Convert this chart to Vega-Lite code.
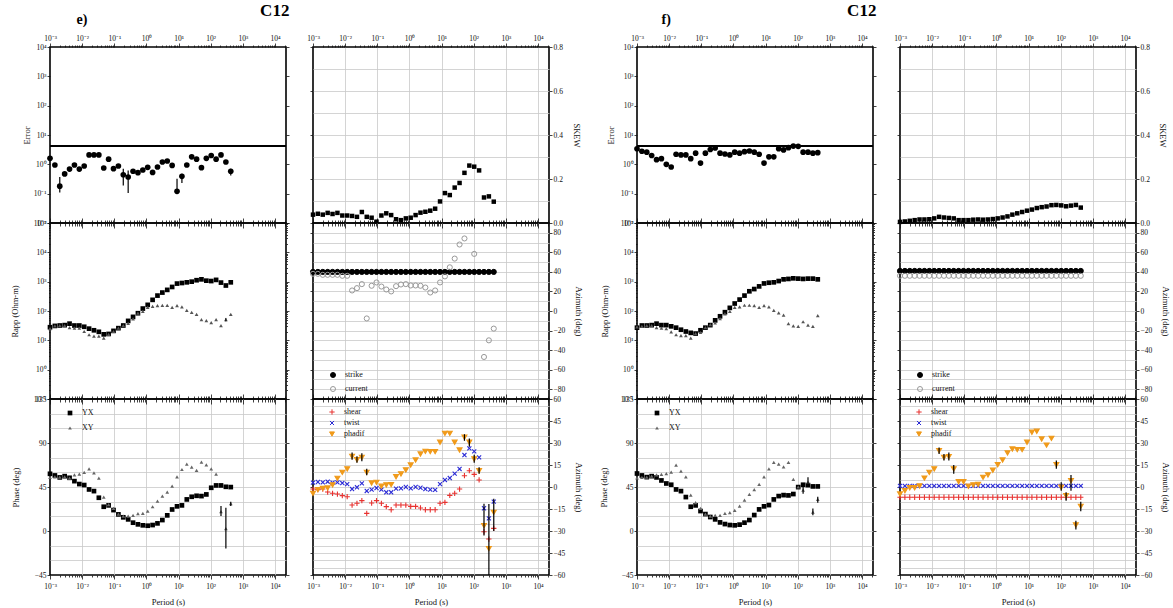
{
"$schema": "https://vega.github.io/schema/vega-lite/v6.json",
"padding": {"left": 9, "top": 1, "right": 2, "bottom": 2},
"background": "white",
"config": {
 "font": "Liberation Serif",
 "view": {"stroke": "#000", "strokeWidth": 1.6},
 "point": {"opacity": 1},
 "axis": {"domain": false, "grid": false, "labelFont": "Liberation Serif", "titleFont": "Liberation Serif", "labelFontSize": 7.5, "titleFontSize": 8.5, "titleFontWeight": "normal", "labelColor": "#111", "titleColor": "#111", "tickColor": "#111", "tickWidth": 0.8, "gridColor": "#c9c9c9", "gridWidth": 0.8, "labelFlush": false, "labelOverlap": false},
 "legend": {"labelFont": "Liberation Serif", "labelFontSize": 8, "labelColor": "#111", "rowPadding": 4, "labelOffset": 8, "symbolSize": 25, "symbolStrokeWidth": 1, "padding": 0},
 "title": {"font": "Liberation Serif"}
},
"datasets": {
 "e": [
  {"p":0.001,"err":1.6,"sk":0.038,"rYX":28,"rXY":25,"pYX":58.5,"pXY":54.8,"strike":40,"current":38,"shear":-1.4,"twist":3,"phadif":-4.3},
  {"p":0.001419,"err":0.95,"sk":0.042,"rYX":31,"rXY":31,"pYX":56.8,"pXY":55.4,"strike":40,"current":38,"shear":-1.8,"twist":3.4,"phadif":-1.8},
  {"p":0.002014,"err":0.18,"sk":0.038,"rYX":32,"rXY":32,"pYX":54.8,"pXY":55,"strike":40,"current":37,"shear":-1.4,"twist":3.2,"phadif":-0.9},
  {"p":0.002858,"err":0.47,"sk":0.046,"rYX":33,"rXY":32,"pYX":56.1,"pXY":55.4,"strike":40,"current":37,"shear":-3.4,"twist":3.6,"phadif":-0.7},
  {"p":0.004055,"err":0.69,"sk":0.041,"rYX":37,"rXY":27,"pYX":54.4,"pXY":54,"strike":40,"current":37,"shear":-4.3,"twist":3,"phadif":1.4},
  {"p":0.005754,"err":0.95,"sk":0.046,"rYX":32,"rXY":26,"pYX":51,"pXY":57.5,"strike":40,"current":37,"shear":-4.8,"twist":3.2,"phadif":5.9},
  {"p":0.008166,"err":0.69,"sk":0.034,"rYX":32,"rXY":26,"pYX":48,"pXY":58.2,"strike":40,"current":36,"shear":-5.9,"twist":2.7,"phadif":10},
  {"p":0.01159,"err":0.88,"sk":0.034,"rYX":29,"rXY":20,"pYX":47,"pXY":59.9,"strike":40,"current":36,"shear":-6.6,"twist":2,"phadif":12.3},
  {"p":0.01644,"err":2.1,"sk":0.032,"rYX":25,"rXY":15.5,"pYX":42.5,"pXY":63.6,"strike":40,"current":21,"shear":-12.3,"twist":-1.4,"phadif":20.9},
  {"p":0.02333,"err":2.1,"sk":0.028,"rYX":22,"rXY":14,"pYX":40.8,"pXY":59.5,"strike":40,"current":23.4,"shear":-11.1,"twist":-0.2,"phadif":18.6},
  {"p":0.03311,"err":2.1,"sk":0.05,"rYX":19.5,"rXY":14,"pYX":34,"pXY":54,"strike":40,"current":27.5,"shear":-9.3,"twist":2.5,"phadif":20.2},
  {"p":0.04699,"err":0.75,"sk":0.028,"rYX":16,"rXY":12,"pYX":24.8,"pXY":34.7,"strike":40,"current":-7.6,"shear":-18,"twist":-2.7,"phadif":10},
  {"p":0.06668,"err":1.5,"sk":0.024,"rYX":16.5,"rXY":16,"pYX":26.2,"pXY":26.9,"strike":40,"current":25.8,"shear":-10.9,"twist":-1.8,"phadif":2.7},
  {"p":0.09462,"err":0.71,"sk":0.006,"rYX":21,"rXY":20,"pYX":21.4,"pXY":23.1,"strike":40,"current":29.2,"shear":-9.3,"twist":-0.7,"phadif":3.2},
  {"p":0.1343,"err":0.88,"sk":0.034,"rYX":26,"rXY":26,"pYX":17,"pXY":17.3,"strike":40,"current":25,"shear":-11.1,"twist":-1.8,"phadif":0.5},
  {"p":0.1905,"err":0.44,"sk":0.044,"rYX":32,"rXY":32,"pYX":14,"pXY":15.3,"strike":40,"current":22,"shear":-13.4,"twist":-3.6,"phadif":1.4},
  {"p":0.2704,"err":0.37,"sk":0.036,"rYX":46,"rXY":38,"pYX":11.9,"pXY":15.3,"strike":40,"current":20,"shear":-15.5,"twist":-3.6,"phadif":1.6},
  {"p":0.3837,"err":0.58,"sk":0.017,"rYX":63,"rXY":54,"pYX":8.5,"pXY":16,"strike":40,"current":25.4,"shear":-12.3,"twist":-1.1,"phadif":7},
  {"p":0.5445,"err":0.52,"sk":0.013,"rYX":84,"rXY":84,"pYX":6.8,"pXY":17.7,"strike":40,"current":27.1,"shear":-12.3,"twist":-0.9,"phadif":8.9},
  {"p":0.7727,"err":0.64,"sk":0.021,"rYX":121,"rXY":98,"pYX":5.8,"pXY":18,"strike":40,"current":27.5,"shear":-12.3,"twist":0,"phadif":11.6},
  {"p":1.096,"err":0.79,"sk":0.024,"rYX":162,"rXY":134,"pYX":5.4,"pXY":20.4,"strike":40,"current":26.1,"shear":-13.2,"twist":-0.9,"phadif":15},
  {"p":1.556,"err":0.53,"sk":0.036,"rYX":240,"rXY":145,"pYX":6.1,"pXY":24.8,"strike":40,"current":26.1,"shear":-13.2,"twist":0,"phadif":18.4},
  {"p":2.208,"err":0.81,"sk":0.047,"rYX":335,"rXY":153,"pYX":7.8,"pXY":30.6,"strike":40,"current":25.8,"shear":-14.3,"twist":-0.5,"phadif":22.5},
  {"p":3.133,"err":1.2,"sk":0.051,"rYX":425,"rXY":155,"pYX":11.2,"pXY":35.7,"strike":40,"current":24,"shear":-15.5,"twist":-1.4,"phadif":24.3},
  {"p":4.446,"err":1.3,"sk":0.056,"rYX":525,"rXY":155,"pYX":16,"pXY":39.8,"strike":40,"current":18.9,"shear":-15.5,"twist":-1.8,"phadif":24.1},
  {"p":6.31,"err":0.92,"sk":0.065,"rYX":660,"rXY":134,"pYX":22,"pXY":45.9,"strike":40,"current":21,"shear":-15.5,"twist":-2,"phadif":24.1},
  {"p":8.954,"err":0.12,"sk":0.098,"rYX":860,"rXY":153,"pYX":25.2,"pXY":55.4,"strike":40,"current":29.2,"shear":-11.1,"twist":2,"phadif":30.5},
  {"p":12.71,"err":0.39,"sk":0.136,"rYX":900,"rXY":138,"pYX":26.2,"pXY":62.9,"strike":40,"current":35.4,"shear":-10.5,"twist":4.8,"phadif":36.6},
  {"p":18.03,"err":0.95,"sk":0.127,"rYX":950,"rXY":106,"pYX":32.3,"pXY":68.4,"strike":40,"current":44.7,"shear":-5.7,"twist":6.1,"phadif":36.6},
  {"p":25.59,"err":1.8,"sk":0.161,"rYX":1000,"rXY":89,"pYX":35,"pXY":65.3,"strike":40,"current":53.6,"shear":-4.3,"twist":9.1,"phadif":30.5},
  {"p":36.31,"err":1.5,"sk":0.182,"rYX":1120,"rXY":77,"pYX":36,"pXY":61.9,"strike":40,"current":68,"shear":-1.4,"twist":12.3,"phadif":25.2},
  {"p":51.52,"err":0.77,"sk":0.228,"rYX":1200,"rXY":51,"pYX":35.7,"pXY":70.4,"strike":40,"current":74.2,"shear":7.7,"twist":21.8,"phadif":33.9},
  {"p":73.11,"err":1.6,"sk":0.261,"rYX":1080,"rXY":47,"pYX":37.4,"pXY":67.7,"strike":40,"current":null,"shear":11.1,"twist":26.3,"phadif":30.5},
  {"p":103.7,"err":2.0,"sk":0.256,"rYX":1050,"rXY":40,"pYX":44.2,"pXY":63.6,"strike":40,"current":58.4,"shear":8.6,"twist":24.3,"phadif":19.1},
  {"p":147.2,"err":1.5,"sk":0.239,"rYX":1150,"rXY":51,"pYX":46.6,"pXY":58.2,"strike":40,"current":null,"shear":4.8,"twist":20.2,"phadif":11.1},
  {"p":208.9,"err":2.1,"sk":0.116,"rYX":930,"rXY":32,"pYX":46.6,"pXY":19.7,"strike":40,"current":-47,"shear":-30.5,"twist":-14.5,"phadif":-26.4},
  {"p":296.5,"err":1.2,"sk":0.121,"rYX":740,"rXY":51,"pYX":45.2,"pXY":2.4,"strike":40,"current":-30,"shear":-35.5,"twist":-21.4,"phadif":-42},
  {"p":420.7,"err":0.58,"sk":0.097,"rYX":950,"rXY":77,"pYX":44.9,"pXY":27.9,"strike":40,"current":-18,"shear":-28.2,"twist":-10,"phadif":-17.3}
 ],
 "f": [
  {"p":0.001,"err":3.4,"sk":0.005,"rYX":27,"rXY":29,"pYX":58.8,"pXY":54.4,"strike":41,"current":36,"shear":-7,"twist":0.8,"phadif":-4.8},
  {"p":0.001419,"err":2.8,"sk":0.007,"rYX":32,"rXY":30,"pYX":56.8,"pXY":54.8,"strike":41,"current":36,"shear":-7,"twist":0.8,"phadif":-2.5},
  {"p":0.002014,"err":2.6,"sk":0.01,"rYX":32,"rXY":32,"pYX":55.1,"pXY":55.1,"strike":41,"current":36,"shear":-7,"twist":0.8,"phadif":-0.5},
  {"p":0.002858,"err":2.0,"sk":0.013,"rYX":33,"rXY":32,"pYX":56.1,"pXY":56.1,"strike":41,"current":36,"shear":-7,"twist":0.8,"phadif":-0.5},
  {"p":0.004055,"err":1.44,"sk":0.016,"rYX":37,"rXY":27,"pYX":54.8,"pXY":57.5,"strike":41,"current":36,"shear":-7,"twist":0.8,"phadif":0.7},
  {"p":0.005754,"err":1.56,"sk":0.016,"rYX":33,"rXY":26,"pYX":51.7,"pXY":57.8,"strike":41,"current":36,"shear":-7,"twist":0.8,"phadif":6.1},
  {"p":0.008166,"err":1.0,"sk":0.017,"rYX":33,"rXY":25,"pYX":48.6,"pXY":58.8,"strike":41,"current":36,"shear":-7,"twist":0.8,"phadif":10},
  {"p":0.01159,"err":0.81,"sk":0.021,"rYX":30,"rXY":19.5,"pYX":47.3,"pXY":60.2,"strike":41,"current":36,"shear":-7,"twist":0.8,"phadif":12.3},
  {"p":0.01644,"err":2.2,"sk":0.028,"rYX":27,"rXY":15.5,"pYX":42.5,"pXY":67.3,"strike":41,"current":36,"shear":-7,"twist":0.8,"phadif":24.8},
  {"p":0.02333,"err":2.1,"sk":0.025,"rYX":23,"rXY":14.4,"pYX":40.8,"pXY":61.2,"strike":41,"current":36,"shear":-7,"twist":0.8,"phadif":20.2},
  {"p":0.03311,"err":2.1,"sk":0.023,"rYX":20,"rXY":14.4,"pYX":34.7,"pXY":55.4,"strike":41,"current":36,"shear":-7,"twist":0.8,"phadif":20.7},
  {"p":0.04699,"err":1.56,"sk":0.021,"rYX":18,"rXY":12,"pYX":24.8,"pXY":36.7,"strike":41,"current":36,"shear":-7,"twist":0.8,"phadif":12.3},
  {"p":0.06668,"err":2.4,"sk":0.013,"rYX":17,"rXY":16.8,"pYX":26.2,"pXY":28.9,"strike":41,"current":36,"shear":-7,"twist":0.8,"phadif":3.6},
  {"p":0.09462,"err":1.1,"sk":0.013,"rYX":22,"rXY":18.5,"pYX":20.4,"pXY":23.1,"strike":41,"current":36,"shear":-7,"twist":0.8,"phadif":3.6},
  {"p":0.1343,"err":2.4,"sk":0.013,"rYX":27,"rXY":27,"pYX":17.3,"pXY":17.3,"strike":41,"current":36,"shear":-7,"twist":0.8,"phadif":0.5},
  {"p":0.1905,"err":3.2,"sk":0.015,"rYX":33,"rXY":34,"pYX":14.3,"pXY":15.3,"strike":41,"current":36,"shear":-7,"twist":0.8,"phadif":1.4},
  {"p":0.2704,"err":3.6,"sk":0.016,"rYX":48,"rXY":39,"pYX":11.9,"pXY":16,"strike":41,"current":36,"shear":-7,"twist":0.8,"phadif":1.8},
  {"p":0.3837,"err":2.4,"sk":0.015,"rYX":66,"rXY":55,"pYX":8.8,"pXY":16,"strike":41,"current":36,"shear":-7,"twist":0.8,"phadif":6.6},
  {"p":0.5445,"err":2.25,"sk":0.016,"rYX":91,"rXY":80,"pYX":7.1,"pXY":18,"strike":41,"current":36,"shear":-7,"twist":0.8,"phadif":8.2},
  {"p":0.7727,"err":2.1,"sk":0.018,"rYX":128,"rXY":98,"pYX":6.1,"pXY":18.7,"strike":41,"current":36,"shear":-7,"twist":0.8,"phadif":11.4},
  {"p":1.096,"err":2.6,"sk":0.021,"rYX":180,"rXY":134,"pYX":5.8,"pXY":21.1,"strike":41,"current":36,"shear":-7,"twist":0.8,"phadif":15.2},
  {"p":1.556,"err":2.4,"sk":0.025,"rYX":245,"rXY":138,"pYX":6.5,"pXY":25.5,"strike":41,"current":36,"shear":-7,"twist":0.8,"phadif":18.4},
  {"p":2.208,"err":2.7,"sk":0.03,"rYX":335,"rXY":157,"pYX":8.5,"pXY":31.6,"strike":41,"current":36,"shear":-7,"twist":0.8,"phadif":23.2},
  {"p":3.133,"err":2.85,"sk":0.038,"rYX":470,"rXY":157,"pYX":11.2,"pXY":37.4,"strike":41,"current":36,"shear":-7,"twist":0.8,"phadif":25.9},
  {"p":4.446,"err":2.6,"sk":0.044,"rYX":560,"rXY":153,"pYX":16.3,"pXY":42.2,"strike":41,"current":36,"shear":-7,"twist":0.8,"phadif":25.5},
  {"p":6.31,"err":2.2,"sk":0.05,"rYX":690,"rXY":134,"pYX":22.1,"pXY":47.6,"strike":41,"current":36,"shear":-7,"twist":0.8,"phadif":25.5},
  {"p":8.954,"err":1.1,"sk":0.056,"rYX":870,"rXY":153,"pYX":25.2,"pXY":55.4,"strike":41,"current":36,"shear":-7,"twist":0.8,"phadif":30.5},
  {"p":12.71,"err":1.8,"sk":0.061,"rYX":920,"rXY":138,"pYX":26.5,"pXY":63.6,"strike":41,"current":36,"shear":-7,"twist":0.8,"phadif":37.3},
  {"p":18.03,"err":1.8,"sk":0.068,"rYX":950,"rXY":106,"pYX":32.3,"pXY":70.1,"strike":41,"current":36,"shear":-7,"twist":0.8,"phadif":38},
  {"p":25.59,"err":3.4,"sk":0.072,"rYX":1050,"rXY":87,"pYX":35.7,"pXY":68.4,"strike":41,"current":36,"shear":-7,"twist":0.8,"phadif":32.7},
  {"p":36.31,"err":3.1,"sk":0.075,"rYX":1200,"rXY":72,"pYX":36.7,"pXY":65.6,"strike":41,"current":36,"shear":-7,"twist":0.8,"phadif":28.6},
  {"p":51.52,"err":3.7,"sk":0.081,"rYX":1240,"rXY":37,"pYX":36.4,"pXY":70.1,"strike":41,"current":36,"shear":-7,"twist":0.8,"phadif":33.2},
  {"p":73.11,"err":4.2,"sk":0.082,"rYX":1300,"rXY":31,"pYX":37.8,"pXY":52.7,"strike":41,"current":36,"shear":-7,"twist":0.8,"phadif":15.2},
  {"p":103.7,"err":4.1,"sk":0.08,"rYX":1270,"rXY":30,"pYX":44.9,"pXY":45,"strike":41,"current":36,"shear":-7,"twist":0.8,"phadif":-0.2},
  {"p":147.2,"err":2.6,"sk":0.076,"rYX":1240,"rXY":43,"pYX":47.3,"pXY":41.8,"strike":41,"current":36,"shear":-7,"twist":0.8,"phadif":-5.9},
  {"p":208.9,"err":2.6,"sk":0.079,"rYX":1270,"rXY":33,"pYX":46.9,"pXY":50,"strike":41,"current":36,"shear":-7,"twist":0.8,"phadif":4.3},
  {"p":296.5,"err":2.4,"sk":0.082,"rYX":1270,"rXY":30,"pYX":45.6,"pXY":19.4,"strike":41,"current":36,"shear":-7,"twist":0.8,"phadif":-25.9},
  {"p":420.7,"err":2.5,"sk":0.07,"rYX":1200,"rXY":70,"pYX":45.6,"pXY":32.3,"strike":41,"current":36,"shear":-7,"twist":0.8,"phadif":-13.2}
 ],
 "ebEerr": [{"p":0.002014,"lo":0.11,"hi":0.37},{"p":0.1905,"lo":0.19,"hi":0.71},{"p":0.2704,"lo":0.105,"hi":0.62},{"p":8.954,"lo":0.1,"hi":0.32},{"p":12.71,"lo":0.23,"hi":0.48},{"p":420.7,"lo":0.42,"hi":0.71}],
 "ebErapp": [{"p":296.5,"lo":44,"hi":58}],
 "ebEph": [{"p":208.9,"lo":15.3,"hi":25.5},{"p":296.5,"lo":-18,"hi":23.8},{"p":420.7,"lo":25.5,"hi":30}],
 "ebEaz": [{"p":0.01644,"lo":18.5,"hi":23.5},{"p":0.02333,"lo":16.5,"hi":21},{"p":0.03311,"lo":17.5,"hi":23},{"p":0.04699,"lo":8,"hi":12.5},{"p":51.52,"lo":31.5,"hi":36},{"p":73.11,"lo":27.5,"hi":33},{"p":103.7,"lo":16.5,"hi":22},{"p":147.2,"lo":9,"hi":13.5},{"p":208.9,"lo":-33,"hi":-11.5},{"p":296.5,"lo":-60,"hi":-11.6},{"p":420.7,"lo":-30,"hi":-8}],
 "ebFph": [{"p":147.2,"lo":38,"hi":46},{"p":208.9,"lo":45,"hi":55},{"p":296.5,"lo":16,"hi":23},{"p":420.7,"lo":29,"hi":35}],
 "ebFaz": [{"p":0.01644,"lo":22.5,"hi":27},{"p":0.02333,"lo":18,"hi":22.5},{"p":0.03311,"lo":18,"hi":23.5},{"p":0.04699,"lo":9,"hi":15},{"p":73.11,"lo":12.5,"hi":18},{"p":103.7,"lo":-2.5,"hi":3.2},{"p":147.2,"lo":-9.3,"hi":-3.6},{"p":208.9,"lo":-2.5,"hi":8.2},{"p":296.5,"lo":-29,"hi":-23},{"p":420.7,"lo":-16.6,"hi":-10}]
},
"spacing": 14,
"resolve": {"scale": {"shape": "independent", "color": "independent", "fill": "independent", "stroke": "independent", "size": "independent"}},
"hconcat": [
 {"vconcat": [
  {"width": 236, "height": 176,
   "title": {"text": "C12", "anchor": "end", "fontSize": 17, "fontWeight": "bold", "offset": -8, "color": "#000"},
   "data": {"name": "e"},
   "layer": [
    {"mark": {"type": "point", "filled": true, "shape": "circle", "size": 32, "color": "#000"},
     "encoding": {
      "x": {"field": "p", "type": "quantitative", "scale": {"type": "log", "domain": [0.001, 22000], "nice": false}, "axis": {"orient": "bottom", "tickCount": 40, "labels": false, "tickSize": {"condition": {"test": "abs(log(datum.value)/LN10-round(log(datum.value)/LN10))<0.01", "value": -5}, "value": -3}, "title": null}},
      "y": {"field": "err", "type": "quantitative", "scale": {"type": "log", "domain": [0.01, 10000], "nice": false}, "axis": {"orient": "left", "values": [0.01, 0.1, 1, 10, 100, 1000, 10000], "labelExpr": "abs(log(datum.value)/LN10-round(log(datum.value)/LN10))<0.01 ? ['10⁻³','10⁻²','10⁻¹','10⁰','10¹','10²','10³','10⁴','10⁵'][round(log(datum.value)/LN10)+3] : ''", "tickSize": 3, "labelPadding": 1, "title": "Error", "titlePadding": 2}}}},
    {"data": {"name": "ebEerr"}, "mark": {"type": "rule", "color": "#000", "strokeWidth": 1.2},
     "encoding": {
      "x": {"field": "p", "type": "quantitative", "scale": {"type": "log", "domain": [0.001, 22000], "nice": false}, "axis": {"orient": "top", "tickCount": 40, "labelExpr": "abs(log(datum.value)/LN10-round(log(datum.value)/LN10))<0.01 ? ['10⁻³','10⁻²','10⁻¹','10⁰','10¹','10²','10³','10⁴','10⁵'][round(log(datum.value)/LN10)+3] : ''", "tickSize": {"condition": {"test": "abs(log(datum.value)/LN10-round(log(datum.value)/LN10))<0.01", "value": 4}, "value": 2}, "labelPadding": 1, "title": "e)", "titleFontSize": 14, "titleFontWeight": "bold", "titleColor": "#000", "titleAnchor": "start", "titleAlign": "left", "titleX": 26, "titleY": -24, "titleBaseline": "alphabetic"}},
      "y": {"field": "lo", "type": "quantitative", "scale": {"type": "log", "domain": [0.01, 10000], "nice": false}, "axis": {"orient": "right", "values": [0.01, 0.1, 1, 10, 100, 1000, 10000], "labels": false, "tickSize": 3, "title": null}},
      "y2": {"field": "hi"}}},
    {"mark": {"type": "rule", "color": "#000", "strokeWidth": 1.5},
     "encoding": {"y": {"datum": 4.1, "type": "quantitative", "scale": {"type": "log", "domain": [0.01, 10000], "nice": false}, "axis": null}}}
   ],
   "resolve": {"axis": {"x": "independent", "y": "independent"}}
  },
  {"width": 236, "height": 176,
   "data": {"name": "e"},
   "layer": [
    {"transform": [{"fold": ["rYX", "rXY"], "as": ["s", "v"]}],
     "mark": {"type": "point", "filled": true},
     "encoding": {
      "x": {"field": "p", "type": "quantitative", "scale": {"type": "log", "domain": [0.001, 22000], "nice": false}, "axis": {"orient": "bottom", "tickCount": 40, "labels": false, "tickSize": {"condition": {"test": "abs(log(datum.value)/LN10-round(log(datum.value)/LN10))<0.01", "value": -5}, "value": -3}, "title": null}},
      "y": {"field": "v", "type": "quantitative", "scale": {"type": "log", "domain": [0.1, 100000], "nice": false}, "axis": {"orient": "left", "tickCount": 40, "labelExpr": "abs(log(datum.value)/LN10-round(log(datum.value)/LN10))<0.01 ? ['10⁻³','10⁻²','10⁻¹','10⁰','10¹','10²','10³','10⁴','10⁵'][round(log(datum.value)/LN10)+3] : ''", "tickSize": {"condition": {"test": "abs(log(datum.value)/LN10-round(log(datum.value)/LN10))<0.01", "value": 3}, "value": 1.5}, "labelPadding": 1, "title": "Rapp (Ohm-m)", "titlePadding": 14}},
      "shape": {"field": "s", "type": "nominal", "scale": {"domain": ["rYX", "rXY"], "range": ["square", "triangle-up"]}, "legend": null},
      "color": {"field": "s", "type": "nominal", "scale": {"domain": ["rYX", "rXY"], "range": ["#000", "#555"]}, "legend": null},
      "size": {"field": "s", "type": "nominal", "scale": {"domain": ["rYX", "rXY"], "range": [22, 14]}, "legend": null}}},
    {"data": {"name": "ebErapp"}, "mark": {"type": "rule", "color": "#000", "strokeWidth": 1},
     "encoding": {
      "x": {"field": "p", "type": "quantitative", "scale": {"type": "log", "domain": [0.001, 22000], "nice": false}, "axis": {"orient": "top", "tickCount": 40, "labels": false, "tickSize": {"condition": {"test": "abs(log(datum.value)/LN10-round(log(datum.value)/LN10))<0.01", "value": -5}, "value": -3}, "title": null}},
      "y": {"field": "lo", "type": "quantitative", "scale": {"type": "log", "domain": [0.1, 100000], "nice": false}, "axis": {"orient": "right", "tickCount": 40, "labels": false, "tickSize": {"condition": {"test": "abs(log(datum.value)/LN10-round(log(datum.value)/LN10))<0.01", "value": 3}, "value": 1.5}, "title": null}},
      "y2": {"field": "hi"}}}
   ],
   "resolve": {"axis": {"x": "independent", "y": "independent"}}
  },
  {"width": 236, "height": 176,
   "data": {"name": "e"},
   "layer": [
    {"transform": [{"fold": ["pYX", "pXY"], "as": ["s", "v"]}],
     "mark": {"type": "point", "filled": true},
     "encoding": {
      "x": {"field": "p", "type": "quantitative", "scale": {"type": "log", "domain": [0.001, 22000], "nice": false}, "axis": {"orient": "bottom", "tickCount": 40, "labelExpr": "abs(log(datum.value)/LN10-round(log(datum.value)/LN10))<0.01 ? ['10⁻³','10⁻²','10⁻¹','10⁰','10¹','10²','10³','10⁴','10⁵'][round(log(datum.value)/LN10)+3] : ''", "tickSize": {"condition": {"test": "abs(log(datum.value)/LN10-round(log(datum.value)/LN10))<0.01", "value": 4}, "value": 2}, "labelPadding": 3, "title": "Period (s)", "titlePadding": 8, "grid": true, "gridOpacity": {"condition": {"test": "abs(log(datum.value)/LN10-round(log(datum.value)/LN10))<0.01 && datum.value>0.0015", "value": 1}, "value": 0}}},
      "y": {"field": "v", "type": "quantitative", "scale": {"type": "linear", "domain": [-45, 135], "nice": false}, "axis": {"orient": "left", "values": [-45, -30, -15, 0, 15, 30, 45, 60, 75, 90, 105, 120, 135], "labelExpr": "datum.value % 45 == 0 ? format(datum.value, 'd') : ''", "tickOpacity": {"condition": {"test": "datum.value % 45 == 0", "value": 1}, "value": 0}, "tickSize": 3, "labelPadding": 1, "title": "Phase (deg)", "titlePadding": 14, "grid": true, "gridOpacity": {"condition": {"test": "datum.value > -45 && datum.value < 135", "value": 1}, "value": 0}}},
      "shape": {"field": "s", "type": "nominal", "scale": {"domain": ["pYX", "pXY"], "range": ["square", "triangle-up"]}, "legend": {"orient": "none", "legendX": 16, "legendY": 10, "title": null, "rowPadding": 6, "labelExpr": "datum.label == 'pYX' ? 'YX' : 'XY'"}},
      "color": {"field": "s", "type": "nominal", "scale": {"domain": ["pYX", "pXY"], "range": ["#000", "#666"]}, "legend": {"orient": "none", "legendX": 16, "legendY": 10, "title": null, "rowPadding": 6, "labelExpr": "datum.label == 'pYX' ? 'YX' : 'XY'"}},
      "size": {"field": "s", "type": "nominal", "scale": {"domain": ["pYX", "pXY"], "range": [22, 14]}, "legend": null}}},
    {"data": {"name": "ebEph"}, "mark": {"type": "rule", "color": "#000", "strokeWidth": 1.2},
     "encoding": {
      "x": {"field": "p", "type": "quantitative", "scale": {"type": "log", "domain": [0.001, 22000], "nice": false}, "axis": {"orient": "top", "tickCount": 40, "labels": false, "tickSize": {"condition": {"test": "abs(log(datum.value)/LN10-round(log(datum.value)/LN10))<0.01", "value": -5}, "value": -3}, "title": null}},
      "y": {"field": "lo", "type": "quantitative", "scale": {"type": "linear", "domain": [-45, 135], "nice": false}, "axis": {"orient": "right", "values": [-45, 0, 45, 90, 135], "labels": false, "tickSize": 3, "title": null}},
      "y2": {"field": "hi"}}}
   ],
   "resolve": {"axis": {"x": "independent", "y": "independent"}}
  }
 ], "spacing": 0, "bounds": "flush",
 "resolve": {"scale": {"shape": "independent", "color": "independent", "fill": "independent", "stroke": "independent", "size": "independent"}}},

 {"vconcat": [
  {"width": 236, "height": 176,
   "data": {"name": "e"},
   "layer": [
    {"mark": {"type": "point", "filled": true, "shape": "square", "size": 20, "color": "#000"},
     "encoding": {
      "x": {"field": "p", "type": "quantitative", "scale": {"type": "log", "domain": [0.001, 22000], "nice": false}, "axis": {"orient": "bottom", "tickCount": 40, "labels": false, "tickSize": {"condition": {"test": "abs(log(datum.value)/LN10-round(log(datum.value)/LN10))<0.01", "value": -5}, "value": -3}, "title": null, "grid": true, "gridOpacity": {"condition": {"test": "abs(log(datum.value)/LN10-round(log(datum.value)/LN10))<0.01 && datum.value>0.0015", "value": 1}, "value": 0}}},
      "y": {"field": "sk", "type": "quantitative", "scale": {"type": "linear", "domain": [0, 0.8], "nice": false}, "axis": {"orient": "left", "values": [0, 0.1, 0.2, 0.3, 0.4, 0.5, 0.6, 0.7, 0.8], "labels": false, "tickSize": 3, "tickOpacity": {"condition": {"test": "abs(datum.value*5-round(datum.value*5))<0.01", "value": 1}, "value": 0}, "title": null, "grid": true, "gridOpacity": {"condition": {"test": "datum.value > 0.05 && datum.value < 0.75", "value": 1}, "value": 0}}}}},
    {"mark": {"type": "point", "opacity": 0},
     "encoding": {
      "x": {"field": "p", "type": "quantitative", "scale": {"type": "log", "domain": [0.001, 22000], "nice": false}, "axis": {"orient": "top", "tickCount": 40, "labelExpr": "abs(log(datum.value)/LN10-round(log(datum.value)/LN10))<0.01 ? ['10⁻³','10⁻²','10⁻¹','10⁰','10¹','10²','10³','10⁴','10⁵'][round(log(datum.value)/LN10)+3] : ''", "tickSize": {"condition": {"test": "abs(log(datum.value)/LN10-round(log(datum.value)/LN10))<0.01", "value": 4}, "value": 2}, "labelPadding": 1, "title": null}},
      "y": {"field": "sk", "type": "quantitative", "scale": {"type": "linear", "domain": [0, 0.8], "nice": false}, "axis": {"orient": "right", "values": [0, 0.1, 0.2, 0.3, 0.4, 0.5, 0.6, 0.7, 0.8], "labelExpr": "abs(datum.value*5-round(datum.value*5))<0.01 ? format(datum.value, '.1f') : ''", "tickSize": 3, "tickOpacity": {"condition": {"test": "abs(datum.value*5-round(datum.value*5))<0.01", "value": 1}, "value": 0}, "labelPadding": 1, "title": "SKEW", "titlePadding": 9}}}}
   ],
   "resolve": {"axis": {"x": "independent", "y": "independent"}}
  },
  {"width": 236, "height": 176,
   "data": {"name": "e"},
   "layer": [
    {"transform": [{"fold": ["strike", "current"], "as": ["s", "v"]}],
     "mark": {"type": "point", "shape": "circle", "size": 26, "strokeWidth": 1},
     "encoding": {
      "x": {"field": "p", "type": "quantitative", "scale": {"type": "log", "domain": [0.001, 22000], "nice": false}, "axis": {"orient": "bottom", "tickCount": 40, "labels": false, "tickSize": {"condition": {"test": "abs(log(datum.value)/LN10-round(log(datum.value)/LN10))<0.01", "value": -5}, "value": -3}, "title": null, "grid": true, "gridOpacity": {"condition": {"test": "abs(log(datum.value)/LN10-round(log(datum.value)/LN10))<0.01 && datum.value>0.0015", "value": 1}, "value": 0}}},
      "y": {"field": "v", "type": "quantitative", "scale": {"type": "linear", "domain": [-90, 90], "nice": false}, "axis": {"orient": "left", "values": [-90, -80, -70, -60, -50, -40, -30, -20, -10, 0, 10, 20, 30, 40, 50, 60, 70, 80, 90], "labels": false, "tickSize": 3, "tickOpacity": {"condition": {"test": "datum.value % 20 == 0 && abs(datum.value) < 85", "value": 1}, "value": 0}, "title": null, "grid": true, "gridOpacity": {"condition": {"test": "abs(datum.value) < 85", "value": 1}, "value": 0}}},
      "fill": {"field": "s", "type": "nominal", "scale": {"domain": ["strike", "current"], "range": ["#000", "rgba(0,0,0,0)"]}, "legend": {"orient": "none", "legendX": 16, "legendY": 148, "title": null}},
      "stroke": {"field": "s", "type": "nominal", "scale": {"domain": ["strike", "current"], "range": ["#000", "#999"]}, "legend": {"orient": "none", "legendX": 16, "legendY": 148, "title": null}}}},
    {"mark": {"type": "point", "opacity": 0},
     "encoding": {
      "x": {"field": "p", "type": "quantitative", "scale": {"type": "log", "domain": [0.001, 22000], "nice": false}, "axis": {"orient": "top", "tickCount": 40, "labels": false, "tickSize": {"condition": {"test": "abs(log(datum.value)/LN10-round(log(datum.value)/LN10))<0.01", "value": -5}, "value": -3}, "title": null}},
      "y": {"field": "strike", "type": "quantitative", "scale": {"type": "linear", "domain": [-90, 90], "nice": false}, "axis": {"orient": "right", "values": [-90, -80, -70, -60, -50, -40, -30, -20, -10, 0, 10, 20, 30, 40, 50, 60, 70, 80, 90], "labelExpr": "datum.value % 20 == 0 && abs(datum.value) < 85 ? format(datum.value, 'd') : ''", "tickSize": 3, "tickOpacity": {"condition": {"test": "datum.value % 20 == 0 && abs(datum.value) < 85", "value": 1}, "value": 0}, "labelPadding": 1, "title": "Azimuth (deg)", "titlePadding": 9}}}}
   ],
   "resolve": {"axis": {"x": "independent", "y": "independent"}}
  },
  {"width": 236, "height": 176,
   "data": {"name": "e"},
   "layer": [
    {"transform": [{"fold": ["shear", "twist", "phadif"], "as": ["s", "v"]}],
     "mark": {"type": "point", "strokeWidth": 1.1},
     "encoding": {
      "x": {"field": "p", "type": "quantitative", "scale": {"type": "log", "domain": [0.001, 22000], "nice": false}, "axis": {"orient": "bottom", "tickCount": 40, "labelExpr": "abs(log(datum.value)/LN10-round(log(datum.value)/LN10))<0.01 ? ['10⁻³','10⁻²','10⁻¹','10⁰','10¹','10²','10³','10⁴','10⁵'][round(log(datum.value)/LN10)+3] : ''", "tickSize": {"condition": {"test": "abs(log(datum.value)/LN10-round(log(datum.value)/LN10))<0.01", "value": 4}, "value": 2}, "labelPadding": 3, "title": "Period (s)", "titlePadding": 8, "grid": true, "gridOpacity": {"condition": {"test": "abs(log(datum.value)/LN10-round(log(datum.value)/LN10))<0.01 && datum.value>0.0015", "value": 1}, "value": 0}}},
      "y": {"field": "v", "type": "quantitative", "scale": {"type": "linear", "domain": [-60, 60], "nice": false}, "axis": {"orient": "left", "values": [-60, -55, -50, -45, -40, -35, -30, -25, -20, -15, -10, -5, 0, 5, 10, 15, 20, 25, 30, 35, 40, 45, 50, 55, 60], "labels": false, "tickSize": 3, "tickOpacity": {"condition": {"test": "datum.value % 15 == 0", "value": 1}, "value": 0}, "title": null, "grid": true, "gridOpacity": {"condition": {"test": "abs(datum.value) < 58", "value": 1}, "value": 0}}},
      "shape": {"field": "s", "type": "nominal", "scale": {"domain": ["shear", "twist", "phadif"], "range": ["M-1,0L1,0M0,-1L0,1", "M-0.8,-0.8L0.8,0.8M-0.8,0.8L0.8,-0.8", "triangle-down"]}, "legend": {"orient": "none", "legendX": 15, "legendY": 9, "title": null, "rowPadding": 1}},
      "fill": {"field": "s", "type": "nominal", "scale": {"domain": ["shear", "twist", "phadif"], "range": ["rgba(0,0,0,0)", "rgba(0,0,0,0)", "#f09a1a"]}, "legend": {"orient": "none", "legendX": 15, "legendY": 9, "title": null, "rowPadding": 1}},
      "stroke": {"field": "s", "type": "nominal", "scale": {"domain": ["shear", "twist", "phadif"], "range": ["#e8312f", "#2b2bd6", "#f09a1a"]}, "legend": {"orient": "none", "legendX": 15, "legendY": 9, "title": null, "rowPadding": 1}},
      "size": {"field": "s", "type": "nominal", "scale": {"domain": ["shear", "twist", "phadif"], "range": [28, 24, 12]}, "legend": {"orient": "none", "legendX": 15, "legendY": 9, "title": null, "rowPadding": 1}}}},
    {"data": {"name": "ebEaz"}, "mark": {"type": "rule", "color": "#000", "strokeWidth": 1.2},
     "encoding": {
      "x": {"field": "p", "type": "quantitative", "scale": {"type": "log", "domain": [0.001, 22000], "nice": false}, "axis": {"orient": "top", "tickCount": 40, "labels": false, "tickSize": {"condition": {"test": "abs(log(datum.value)/LN10-round(log(datum.value)/LN10))<0.01", "value": -5}, "value": -3}, "title": null}},
      "y": {"field": "lo", "type": "quantitative", "scale": {"type": "linear", "domain": [-60, 60], "nice": false}, "axis": {"orient": "right", "values": [-60, -55, -50, -45, -40, -35, -30, -25, -20, -15, -10, -5, 0, 5, 10, 15, 20, 25, 30, 35, 40, 45, 50, 55, 60], "labelExpr": "datum.value % 15 == 0 ? format(datum.value, 'd') : ''", "tickSize": 3, "tickOpacity": {"condition": {"test": "datum.value % 15 == 0", "value": 1}, "value": 0}, "labelPadding": 1, "title": "Azimuth (deg)", "titlePadding": 9}},
      "y2": {"field": "hi"}}}
   ],
   "resolve": {"axis": {"x": "independent", "y": "independent"}}
  }
 ], "spacing": 0, "bounds": "flush",
 "resolve": {"scale": {"shape": "independent", "color": "independent", "fill": "independent", "stroke": "independent", "size": "independent"}}},

 {"vconcat": [
  {"width": 236, "height": 176,
   "title": {"text": "C12", "anchor": "end", "fontSize": 17, "fontWeight": "bold", "offset": -8, "color": "#000"},
   "data": {"name": "f"},
   "layer": [
    {"mark": {"type": "point", "filled": true, "shape": "circle", "size": 32, "color": "#000"},
     "encoding": {
      "x": {"field": "p", "type": "quantitative", "scale": {"type": "log", "domain": [0.001, 22000], "nice": false}, "axis": {"orient": "bottom", "tickCount": 40, "labels": false, "tickSize": {"condition": {"test": "abs(log(datum.value)/LN10-round(log(datum.value)/LN10))<0.01", "value": -5}, "value": -3}, "title": null}},
      "y": {"field": "err", "type": "quantitative", "scale": {"type": "log", "domain": [0.01, 10000], "nice": false}, "axis": {"orient": "left", "values": [0.01, 0.1, 1, 10, 100, 1000, 10000], "labelExpr": "abs(log(datum.value)/LN10-round(log(datum.value)/LN10))<0.01 ? ['10⁻³','10⁻²','10⁻¹','10⁰','10¹','10²','10³','10⁴','10⁵'][round(log(datum.value)/LN10)+3] : ''", "tickSize": 3, "labelPadding": 1, "title": "Error", "titlePadding": 5}}}},
    {"mark": {"type": "point", "opacity": 0},
     "encoding": {
      "x": {"field": "p", "type": "quantitative", "scale": {"type": "log", "domain": [0.001, 22000], "nice": false}, "axis": {"orient": "top", "tickCount": 40, "labelExpr": "abs(log(datum.value)/LN10-round(log(datum.value)/LN10))<0.01 ? ['10⁻³','10⁻²','10⁻¹','10⁰','10¹','10²','10³','10⁴','10⁵'][round(log(datum.value)/LN10)+3] : ''", "tickSize": {"condition": {"test": "abs(log(datum.value)/LN10-round(log(datum.value)/LN10))<0.01", "value": 4}, "value": 2}, "labelPadding": 1, "title": "f)", "titleFontSize": 14, "titleFontWeight": "bold", "titleColor": "#000", "titleAnchor": "start", "titleAlign": "left", "titleX": 24, "titleY": -24, "titleBaseline": "alphabetic"}},
      "y": {"field": "err", "type": "quantitative", "scale": {"type": "log", "domain": [0.01, 10000], "nice": false}, "axis": {"orient": "right", "values": [0.01, 0.1, 1, 10, 100, 1000, 10000], "labels": false, "tickSize": 3, "title": null}}}},
    {"mark": {"type": "rule", "color": "#000", "strokeWidth": 1.5},
     "encoding": {"y": {"datum": 4.1, "type": "quantitative", "scale": {"type": "log", "domain": [0.01, 10000], "nice": false}, "axis": null}}}
   ],
   "resolve": {"axis": {"x": "independent", "y": "independent"}}
  },
  {"width": 236, "height": 176,
   "data": {"name": "f"},
   "layer": [
    {"transform": [{"fold": ["rYX", "rXY"], "as": ["s", "v"]}],
     "mark": {"type": "point", "filled": true},
     "encoding": {
      "x": {"field": "p", "type": "quantitative", "scale": {"type": "log", "domain": [0.001, 22000], "nice": false}, "axis": {"orient": "bottom", "tickCount": 40, "labels": false, "tickSize": {"condition": {"test": "abs(log(datum.value)/LN10-round(log(datum.value)/LN10))<0.01", "value": -5}, "value": -3}, "title": null}},
      "y": {"field": "v", "type": "quantitative", "scale": {"type": "log", "domain": [0.1, 100000], "nice": false}, "axis": {"orient": "left", "tickCount": 40, "labelExpr": "abs(log(datum.value)/LN10-round(log(datum.value)/LN10))<0.01 ? ['10⁻³','10⁻²','10⁻¹','10⁰','10¹','10²','10³','10⁴','10⁵'][round(log(datum.value)/LN10)+3] : ''", "tickSize": {"condition": {"test": "abs(log(datum.value)/LN10-round(log(datum.value)/LN10))<0.01", "value": 3}, "value": 1.5}, "labelPadding": 1, "title": "Rapp (Ohm-m)", "titlePadding": 11}},
      "shape": {"field": "s", "type": "nominal", "scale": {"domain": ["rYX", "rXY"], "range": ["square", "triangle-up"]}, "legend": null},
      "color": {"field": "s", "type": "nominal", "scale": {"domain": ["rYX", "rXY"], "range": ["#000", "#555"]}, "legend": null},
      "size": {"field": "s", "type": "nominal", "scale": {"domain": ["rYX", "rXY"], "range": [22, 14]}, "legend": null}}},
    {"mark": {"type": "point", "opacity": 0},
     "encoding": {
      "x": {"field": "p", "type": "quantitative", "scale": {"type": "log", "domain": [0.001, 22000], "nice": false}, "axis": {"orient": "top", "tickCount": 40, "labels": false, "tickSize": {"condition": {"test": "abs(log(datum.value)/LN10-round(log(datum.value)/LN10))<0.01", "value": -5}, "value": -3}, "title": null}},
      "y": {"field": "rYX", "type": "quantitative", "scale": {"type": "log", "domain": [0.1, 100000], "nice": false}, "axis": {"orient": "right", "tickCount": 40, "labels": false, "tickSize": {"condition": {"test": "abs(log(datum.value)/LN10-round(log(datum.value)/LN10))<0.01", "value": 3}, "value": 1.5}, "title": null}}}}
   ],
   "resolve": {"axis": {"x": "independent", "y": "independent"}}
  },
  {"width": 236, "height": 176,
   "data": {"name": "f"},
   "layer": [
    {"transform": [{"fold": ["pYX", "pXY"], "as": ["s", "v"]}],
     "mark": {"type": "point", "filled": true},
     "encoding": {
      "x": {"field": "p", "type": "quantitative", "scale": {"type": "log", "domain": [0.001, 22000], "nice": false}, "axis": {"orient": "bottom", "tickCount": 40, "labelExpr": "abs(log(datum.value)/LN10-round(log(datum.value)/LN10))<0.01 ? ['10⁻³','10⁻²','10⁻¹','10⁰','10¹','10²','10³','10⁴','10⁵'][round(log(datum.value)/LN10)+3] : ''", "tickSize": {"condition": {"test": "abs(log(datum.value)/LN10-round(log(datum.value)/LN10))<0.01", "value": 4}, "value": 2}, "labelPadding": 3, "title": "Period (s)", "titlePadding": 8, "grid": true, "gridOpacity": {"condition": {"test": "abs(log(datum.value)/LN10-round(log(datum.value)/LN10))<0.01 && datum.value>0.0015", "value": 1}, "value": 0}}},
      "y": {"field": "v", "type": "quantitative", "scale": {"type": "linear", "domain": [-45, 135], "nice": false}, "axis": {"orient": "left", "values": [-45, -30, -15, 0, 15, 30, 45, 60, 75, 90, 105, 120, 135], "labelExpr": "datum.value % 45 == 0 ? format(datum.value, 'd') : ''", "tickOpacity": {"condition": {"test": "datum.value % 45 == 0", "value": 1}, "value": 0}, "tickSize": 3, "labelPadding": 1, "title": "Phase (deg)", "titlePadding": 13, "grid": true, "gridOpacity": {"condition": {"test": "datum.value > -45 && datum.value < 135", "value": 1}, "value": 0}}},
      "shape": {"field": "s", "type": "nominal", "scale": {"domain": ["pYX", "pXY"], "range": ["square", "triangle-up"]}, "legend": {"orient": "none", "legendX": 16, "legendY": 10, "title": null, "rowPadding": 6, "labelExpr": "datum.label == 'pYX' ? 'YX' : 'XY'"}},
      "color": {"field": "s", "type": "nominal", "scale": {"domain": ["pYX", "pXY"], "range": ["#000", "#666"]}, "legend": {"orient": "none", "legendX": 16, "legendY": 10, "title": null, "rowPadding": 6, "labelExpr": "datum.label == 'pYX' ? 'YX' : 'XY'"}},
      "size": {"field": "s", "type": "nominal", "scale": {"domain": ["pYX", "pXY"], "range": [22, 14]}, "legend": null}}},
    {"data": {"name": "ebFph"}, "mark": {"type": "rule", "color": "#000", "strokeWidth": 1.2},
     "encoding": {
      "x": {"field": "p", "type": "quantitative", "scale": {"type": "log", "domain": [0.001, 22000], "nice": false}, "axis": {"orient": "top", "tickCount": 40, "labels": false, "tickSize": {"condition": {"test": "abs(log(datum.value)/LN10-round(log(datum.value)/LN10))<0.01", "value": -5}, "value": -3}, "title": null}},
      "y": {"field": "lo", "type": "quantitative", "scale": {"type": "linear", "domain": [-45, 135], "nice": false}, "axis": {"orient": "right", "values": [-45, 0, 45, 90, 135], "labels": false, "tickSize": 3, "title": null}},
      "y2": {"field": "hi"}}}
   ],
   "resolve": {"axis": {"x": "independent", "y": "independent"}}
  }
 ], "spacing": 0, "bounds": "flush",
 "resolve": {"scale": {"shape": "independent", "color": "independent", "fill": "independent", "stroke": "independent", "size": "independent"}}},

 {"vconcat": [
  {"width": 236, "height": 176,
   "data": {"name": "f"},
   "layer": [
    {"mark": {"type": "point", "filled": true, "shape": "square", "size": 20, "color": "#000"},
     "encoding": {
      "x": {"field": "p", "type": "quantitative", "scale": {"type": "log", "domain": [0.001, 22000], "nice": false}, "axis": {"orient": "bottom", "tickCount": 40, "labels": false, "tickSize": {"condition": {"test": "abs(log(datum.value)/LN10-round(log(datum.value)/LN10))<0.01", "value": -5}, "value": -3}, "title": null, "grid": true, "gridOpacity": {"condition": {"test": "abs(log(datum.value)/LN10-round(log(datum.value)/LN10))<0.01 && datum.value>0.0015", "value": 1}, "value": 0}}},
      "y": {"field": "sk", "type": "quantitative", "scale": {"type": "linear", "domain": [0, 0.8], "nice": false}, "axis": {"orient": "left", "values": [0, 0.1, 0.2, 0.3, 0.4, 0.5, 0.6, 0.7, 0.8], "labels": false, "tickSize": 3, "tickOpacity": {"condition": {"test": "abs(datum.value*5-round(datum.value*5))<0.01", "value": 1}, "value": 0}, "title": null, "grid": true, "gridOpacity": {"condition": {"test": "datum.value > 0.05 && datum.value < 0.75", "value": 1}, "value": 0}}}}},
    {"mark": {"type": "point", "opacity": 0},
     "encoding": {
      "x": {"field": "p", "type": "quantitative", "scale": {"type": "log", "domain": [0.001, 22000], "nice": false}, "axis": {"orient": "top", "tickCount": 40, "labelExpr": "abs(log(datum.value)/LN10-round(log(datum.value)/LN10))<0.01 ? ['10⁻³','10⁻²','10⁻¹','10⁰','10¹','10²','10³','10⁴','10⁵'][round(log(datum.value)/LN10)+3] : ''", "tickSize": {"condition": {"test": "abs(log(datum.value)/LN10-round(log(datum.value)/LN10))<0.01", "value": 4}, "value": 2}, "labelPadding": 1, "title": null}},
      "y": {"field": "sk", "type": "quantitative", "scale": {"type": "linear", "domain": [0, 0.8], "nice": false}, "axis": {"orient": "right", "values": [0, 0.1, 0.2, 0.3, 0.4, 0.5, 0.6, 0.7, 0.8], "labelExpr": "abs(datum.value*5-round(datum.value*5))<0.01 ? format(datum.value, '.1f') : ''", "tickSize": 3, "tickOpacity": {"condition": {"test": "abs(datum.value*5-round(datum.value*5))<0.01", "value": 1}, "value": 0}, "labelPadding": 1, "title": "SKEW", "titlePadding": 8}}}}
   ],
   "resolve": {"axis": {"x": "independent", "y": "independent"}}
  },
  {"width": 236, "height": 176,
   "data": {"name": "f"},
   "layer": [
    {"transform": [{"fold": ["strike", "current"], "as": ["s", "v"]}],
     "mark": {"type": "point", "shape": "circle", "size": 26, "strokeWidth": 1},
     "encoding": {
      "x": {"field": "p", "type": "quantitative", "scale": {"type": "log", "domain": [0.001, 22000], "nice": false}, "axis": {"orient": "bottom", "tickCount": 40, "labels": false, "tickSize": {"condition": {"test": "abs(log(datum.value)/LN10-round(log(datum.value)/LN10))<0.01", "value": -5}, "value": -3}, "title": null, "grid": true, "gridOpacity": {"condition": {"test": "abs(log(datum.value)/LN10-round(log(datum.value)/LN10))<0.01 && datum.value>0.0015", "value": 1}, "value": 0}}},
      "y": {"field": "v", "type": "quantitative", "scale": {"type": "linear", "domain": [-90, 90], "nice": false}, "axis": {"orient": "left", "values": [-90, -80, -70, -60, -50, -40, -30, -20, -10, 0, 10, 20, 30, 40, 50, 60, 70, 80, 90], "labels": false, "tickSize": 3, "tickOpacity": {"condition": {"test": "datum.value % 20 == 0 && abs(datum.value) < 85", "value": 1}, "value": 0}, "title": null, "grid": true, "gridOpacity": {"condition": {"test": "abs(datum.value) < 85", "value": 1}, "value": 0}}},
      "fill": {"field": "s", "type": "nominal", "scale": {"domain": ["strike", "current"], "range": ["#000", "rgba(0,0,0,0)"]}, "legend": {"orient": "none", "legendX": 16, "legendY": 148, "title": null}},
      "stroke": {"field": "s", "type": "nominal", "scale": {"domain": ["strike", "current"], "range": ["#000", "#999"]}, "legend": {"orient": "none", "legendX": 16, "legendY": 148, "title": null}}}},
    {"mark": {"type": "point", "opacity": 0},
     "encoding": {
      "x": {"field": "p", "type": "quantitative", "scale": {"type": "log", "domain": [0.001, 22000], "nice": false}, "axis": {"orient": "top", "tickCount": 40, "labels": false, "tickSize": {"condition": {"test": "abs(log(datum.value)/LN10-round(log(datum.value)/LN10))<0.01", "value": -5}, "value": -3}, "title": null}},
      "y": {"field": "strike", "type": "quantitative", "scale": {"type": "linear", "domain": [-90, 90], "nice": false}, "axis": {"orient": "right", "values": [-90, -80, -70, -60, -50, -40, -30, -20, -10, 0, 10, 20, 30, 40, 50, 60, 70, 80, 90], "labelExpr": "datum.value % 20 == 0 && abs(datum.value) < 85 ? format(datum.value, 'd') : ''", "tickSize": 3, "tickOpacity": {"condition": {"test": "datum.value % 20 == 0 && abs(datum.value) < 85", "value": 1}, "value": 0}, "labelPadding": 1, "title": "Azimuth (deg)", "titlePadding": 9}}}}
   ],
   "resolve": {"axis": {"x": "independent", "y": "independent"}}
  },
  {"width": 236, "height": 176,
   "data": {"name": "f"},
   "layer": [
    {"transform": [{"fold": ["shear", "twist", "phadif"], "as": ["s", "v"]}],
     "mark": {"type": "point", "strokeWidth": 1.1},
     "encoding": {
      "x": {"field": "p", "type": "quantitative", "scale": {"type": "log", "domain": [0.001, 22000], "nice": false}, "axis": {"orient": "bottom", "tickCount": 40, "labelExpr": "abs(log(datum.value)/LN10-round(log(datum.value)/LN10))<0.01 ? ['10⁻³','10⁻²','10⁻¹','10⁰','10¹','10²','10³','10⁴','10⁵'][round(log(datum.value)/LN10)+3] : ''", "tickSize": {"condition": {"test": "abs(log(datum.value)/LN10-round(log(datum.value)/LN10))<0.01", "value": 4}, "value": 2}, "labelPadding": 3, "title": "Period (s)", "titlePadding": 8, "grid": true, "gridOpacity": {"condition": {"test": "abs(log(datum.value)/LN10-round(log(datum.value)/LN10))<0.01 && datum.value>0.0015", "value": 1}, "value": 0}}},
      "y": {"field": "v", "type": "quantitative", "scale": {"type": "linear", "domain": [-60, 60], "nice": false}, "axis": {"orient": "left", "values": [-60, -55, -50, -45, -40, -35, -30, -25, -20, -15, -10, -5, 0, 5, 10, 15, 20, 25, 30, 35, 40, 45, 50, 55, 60], "labels": false, "tickSize": 3, "tickOpacity": {"condition": {"test": "datum.value % 15 == 0", "value": 1}, "value": 0}, "title": null, "grid": true, "gridOpacity": {"condition": {"test": "abs(datum.value) < 58", "value": 1}, "value": 0}}},
      "shape": {"field": "s", "type": "nominal", "scale": {"domain": ["shear", "twist", "phadif"], "range": ["M-1,0L1,0M0,-1L0,1", "M-0.8,-0.8L0.8,0.8M-0.8,0.8L0.8,-0.8", "triangle-down"]}, "legend": {"orient": "none", "legendX": 15, "legendY": 9, "title": null, "rowPadding": 1}},
      "fill": {"field": "s", "type": "nominal", "scale": {"domain": ["shear", "twist", "phadif"], "range": ["rgba(0,0,0,0)", "rgba(0,0,0,0)", "#f09a1a"]}, "legend": {"orient": "none", "legendX": 15, "legendY": 9, "title": null, "rowPadding": 1}},
      "stroke": {"field": "s", "type": "nominal", "scale": {"domain": ["shear", "twist", "phadif"], "range": ["#e8312f", "#2b2bd6", "#f09a1a"]}, "legend": {"orient": "none", "legendX": 15, "legendY": 9, "title": null, "rowPadding": 1}},
      "size": {"field": "s", "type": "nominal", "scale": {"domain": ["shear", "twist", "phadif"], "range": [28, 24, 12]}, "legend": {"orient": "none", "legendX": 15, "legendY": 9, "title": null, "rowPadding": 1}}}},
    {"data": {"name": "ebFaz"}, "mark": {"type": "rule", "color": "#000", "strokeWidth": 1.2},
     "encoding": {
      "x": {"field": "p", "type": "quantitative", "scale": {"type": "log", "domain": [0.001, 22000], "nice": false}, "axis": {"orient": "top", "tickCount": 40, "labels": false, "tickSize": {"condition": {"test": "abs(log(datum.value)/LN10-round(log(datum.value)/LN10))<0.01", "value": -5}, "value": -3}, "title": null}},
      "y": {"field": "lo", "type": "quantitative", "scale": {"type": "linear", "domain": [-60, 60], "nice": false}, "axis": {"orient": "right", "values": [-60, -55, -50, -45, -40, -35, -30, -25, -20, -15, -10, -5, 0, 5, 10, 15, 20, 25, 30, 35, 40, 45, 50, 55, 60], "labelExpr": "datum.value % 15 == 0 ? format(datum.value, 'd') : ''", "tickSize": 3, "tickOpacity": {"condition": {"test": "datum.value % 15 == 0", "value": 1}, "value": 0}, "labelPadding": 1, "title": "Azimuth (deg)", "titlePadding": 9}},
      "y2": {"field": "hi"}}}
   ],
   "resolve": {"axis": {"x": "independent", "y": "independent"}}
  }
 ], "spacing": 0, "bounds": "flush",
 "resolve": {"scale": {"shape": "independent", "color": "independent", "fill": "independent", "stroke": "independent", "size": "independent"}}}
]
}
